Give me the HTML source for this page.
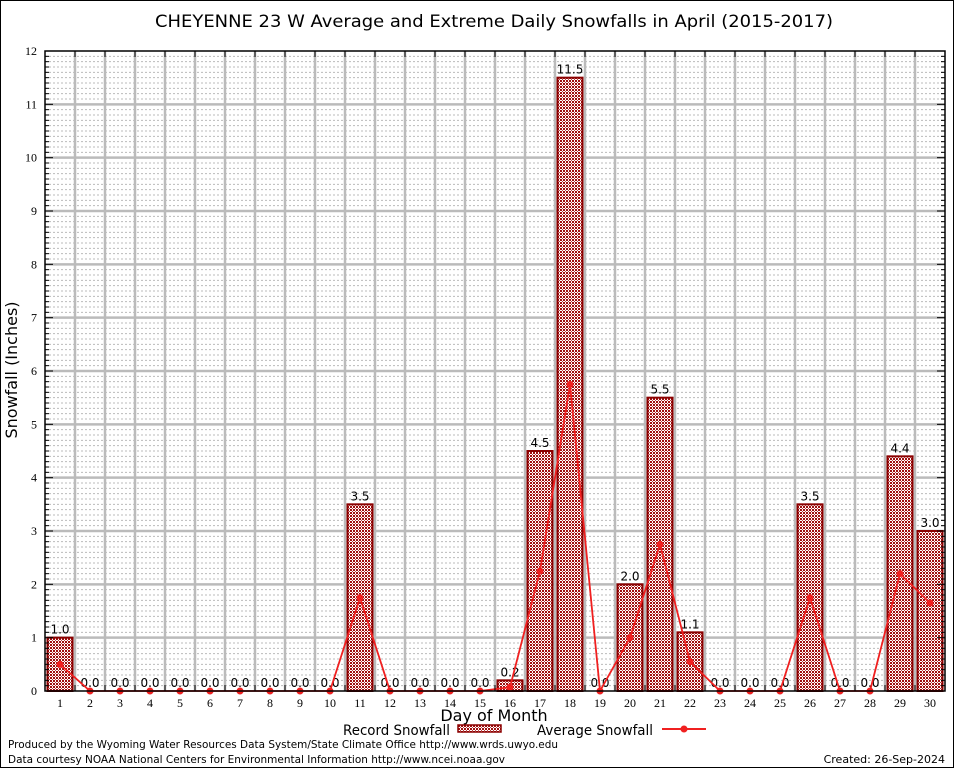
<!DOCTYPE html>
<html><head><meta charset="utf-8"><style>
body{margin:0;background:#fff;}
svg{display:block;font-family:"DejaVu Sans","Liberation Sans",sans-serif;}
</style></head><body>
<svg id="c" width="954" height="768">
<defs>
<pattern id="hatch" width="3" height="3" patternUnits="userSpaceOnUse">
<rect width="3" height="3" fill="#fff"/>
<rect width="1" height="1" fill="#a01010"/><rect x="2" y="0" width="1" height="1" fill="#a01010"/>
<rect x="1" y="1" width="1" height="1" fill="#c04040"/>
<rect x="0" y="2" width="1" height="1" fill="#a01010"/><rect x="2" y="2" width="1" height="1" fill="#a01010"/>
</pattern>
</defs>
<rect x="0.5" y="0.5" width="953" height="767" fill="#fff" stroke="#000"/>
<text x="494" y="27" font-size="17" text-anchor="middle" textLength="678" lengthAdjust="spacingAndGlyphs">CHEYENNE 23 W Average and Extreme Daily Snowfalls in April (2015-2017)</text>
<g id="grid"></g>
<g id="bars"></g>
<g id="line"></g>
<g id="axes"></g>
<text x="17" y="370" font-size="16" text-anchor="middle" transform="rotate(-90 17 370)">Snowfall (Inches)</text>
<text x="494" y="721" font-size="16" text-anchor="middle">Day of Month</text>
<g>
<text x="343" y="735" font-size="14" textLength="107" lengthAdjust="spacingAndGlyphs">Record Snowfall</text>
<rect x="458" y="725" width="43" height="7" fill="url(#hatch)" stroke="#8b0000" stroke-width="1.5"/>
<text x="537" y="735" font-size="14" textLength="116" lengthAdjust="spacingAndGlyphs">Average Snowfall</text>
<line x1="662" y1="729" x2="706" y2="729" stroke="#f02020" stroke-width="2"/>
<circle cx="684" cy="729" r="3.5" fill="#f02020"/>
</g>
<text x="8" y="748" font-size="11" textLength="550" lengthAdjust="spacingAndGlyphs">Produced by the Wyoming Water Resources Data System/State Climate Office http://www.wrds.uwyo.edu</text>
<text x="8" y="763" font-size="11" textLength="497" lengthAdjust="spacingAndGlyphs">Data courtesy NOAA National Centers for Environmental Information http://www.ncei.noaa.gov</text>
<text x="945" y="763" font-size="11" text-anchor="end">Created:  26-Sep-2024</text>
</svg>
<script>
const days=[1,2,3,4,5,6,7,8,9,10,11,12,13,14,15,16,17,18,19,20,21,22,23,24,25,26,27,28,29,30];
const recordSnow=[1.0,0,0,0,0,0,0,0,0,0,3.5,0,0,0,0,0.2,4.5,11.5,0,2.0,5.5,1.1,0,0,0,3.5,0,0,4.4,3.0];
const avgSnow=[0.5,0,0,0,0,0,0,0,0,0,1.75,0,0,0,0,0.07,2.25,5.75,0,1.0,2.75,0.55,0,0,0,1.75,0,0,2.2,1.65];
const yTicks=[0,1,2,3,4,5,6,7,8,9,10,11,12];
const L=45,R=945,T=51,B=691,yMax=12;
const NS='http://www.w3.org/2000/svg';
const xs=d=>L+(d-0.5)*(R-L)/30;
const ys=v=>B-v*(B-T)/yMax;
function mk(p,t,a){const e=document.createElementNS(NS,t);for(const k in a)e.setAttribute(k,a[k]);document.getElementById(p).appendChild(e);return e;}
for(let i=1;i<yMax*10;i++){if(i%10===0)continue;
 const l=mk('grid','line',{x1:L,x2:R,y1:ys(i/10),y2:ys(i/10),stroke:'#bbb','stroke-dasharray':'2,2','stroke-width':1});
 
 }
for(let d=1;d<30;d++){
 const l=mk('grid','line',{x1:L+d*30,x2:L+d*30,y1:T,y2:B,stroke:'#bbb','stroke-width':2.5});
 
 }
yTicks.forEach(v=>{if(v===0||v===12)return;
 const l=mk('grid','line',{x1:L,x2:R,y1:ys(v),y2:ys(v),stroke:'#bbb','stroke-width':2.5});
 
 });
days.forEach((d,i)=>{const v=recordSnow[i];
 if(v>0){const r=mk('bars','rect',{x:xs(d)-12.5,y:ys(v),width:25,height:ys(0)-ys(v),fill:'url(#hatch)',stroke:'#8b0000','stroke-width':2});
 
 }
 const t=mk('bars','text',{x:xs(d),y:ys(v)-4,'font-size':12,'text-anchor':'middle'});t.textContent=v.toFixed(1);
 
 });
const pl=mk('line','polyline',{points:days.map((d,i)=>xs(d)+','+ys(avgSnow[i])).join(' '),fill:'none',stroke:'#f02020','stroke-width':1.8});


days.forEach((d,i)=>{const c=mk('line','circle',{cx:xs(d),cy:ys(avgSnow[i]),r:3.5,fill:'#f02020'});
 
 });
const fr=mk('axes','rect',{x:L,y:T,width:R-L,height:B-T,fill:'none',stroke:'#000','stroke-width':1.5});


for(let i=1;i<yMax*10;i++){const w=i%10===0?8:4;
 mk('axes','line',{x1:L,x2:L+w,y1:ys(i/10),y2:ys(i/10),stroke:'#000'});
 mk('axes','line',{x1:R,x2:R-w,y1:ys(i/10),y2:ys(i/10),stroke:'#000'});}
for(let d=1;d<30;d++){mk('axes','line',{x1:L+d*30,x2:L+d*30,y1:B,y2:B-6,stroke:'#000'});mk('axes','line',{x1:L+d*30,x2:L+d*30,y1:T,y2:T+6,stroke:'#000'});}
yTicks.forEach(v=>{const t=mk('axes','text',{x:L-8,y:ys(v)+4,'font-size':12,'text-anchor':'end','font-family':'Liberation Serif,serif'});t.textContent=v;
 
 });
days.forEach(d=>{const t=mk('axes','text',{x:xs(d),y:B+16,'font-size':12,'text-anchor':'middle','font-family':'Liberation Serif,serif'});t.textContent=d;
 
 });
</script>
</body></html>
